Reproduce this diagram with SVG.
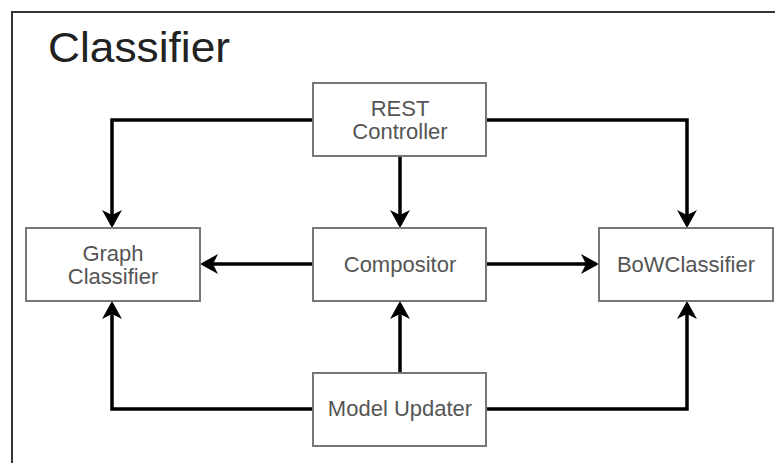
<svg xmlns="http://www.w3.org/2000/svg" width="775" height="463" viewBox="0 0 775 463">
<style>
.box{fill:#ffffff;stroke:#777777;stroke-width:2}
.lbl{font-family:"Liberation Sans",Arial,sans-serif;font-size:22px;fill:#555555;text-anchor:middle}
.conn{fill:none;stroke:#000000;stroke-width:3.5}
</style>
<defs>
<marker id="arr" markerUnits="userSpaceOnUse" markerWidth="20" markerHeight="22" refX="15" refY="11" orient="auto" viewBox="0 0 20 22">
<path d="M0,1 L18,11 L0,21 L5,11 Z" fill="#000000"/>
</marker>
</defs>
<rect x="0" y="0" width="775" height="463" fill="#ffffff"/>
<rect x="12" y="12" width="800" height="500" fill="#ffffff" stroke="#333333" stroke-width="2"/>
<text x="48" y="62" font-family="'Liberation Sans',Arial,sans-serif" font-size="42" fill="#222222" textLength="182" lengthAdjust="spacingAndGlyphs">Classifier</text>
<g id="connectors">
<polyline class="conn" points="313,120 112,120 112,225" marker-end="url(#arr)"/>
<polyline class="conn" points="486,120 687,120 687,225" marker-end="url(#arr)"/>
<polyline class="conn" points="400,156 400,225" marker-end="url(#arr)"/>
<polyline class="conn" points="313,264 203,264" marker-end="url(#arr)"/>
<polyline class="conn" points="486,264 596,264" marker-end="url(#arr)"/>
<polyline class="conn" points="313,409 112,409 112,304" marker-end="url(#arr)"/>
<polyline class="conn" points="486,409 687,409 687,304" marker-end="url(#arr)"/>
<polyline class="conn" points="400,373 400,304" marker-end="url(#arr)"/>
</g>
<g id="rest-controller">
<rect class="box" x="313" y="83" width="173" height="73"/>
<text class="lbl" x="400" y="116">REST</text>
<text class="lbl" x="400" y="139">Controller</text>
</g>
<g id="graph-classifier">
<rect class="box" x="26" y="228" width="174" height="73"/>
<text class="lbl" x="113" y="261">Graph</text>
<text class="lbl" x="113" y="284">Classifier</text>
</g>
<g id="compositor">
<rect class="box" x="313" y="228" width="173" height="73"/>
<text class="lbl" x="400" y="272">Compositor</text>
</g>
<g id="bow-classifier">
<rect class="box" x="599" y="228" width="174" height="73"/>
<text class="lbl" x="686" y="272">BoWClassifier</text>
</g>
<g id="model-updater">
<rect class="box" x="313" y="373" width="173" height="73"/>
<text class="lbl" x="400" y="416">Model Updater</text>
</g>
</svg>
